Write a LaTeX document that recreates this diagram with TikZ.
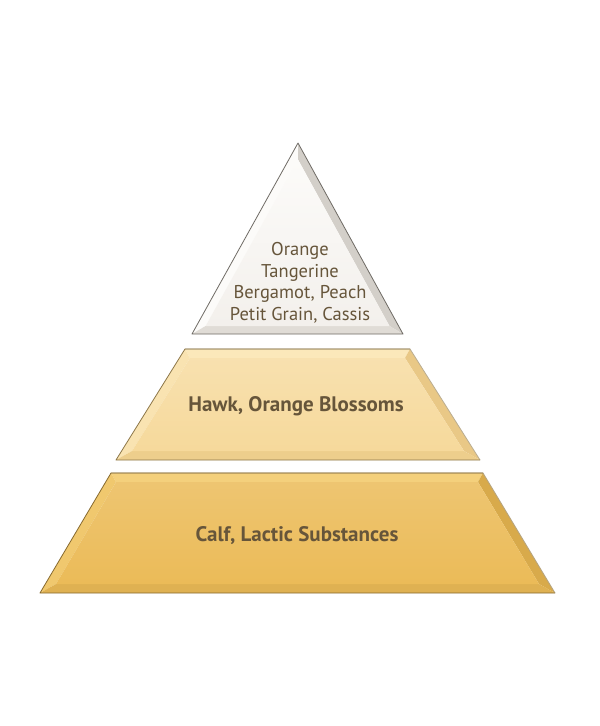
\documentclass[tikz,border=0pt]{standalone}
\usepackage{fontspec}
\setmainfont{PT Sans}
\usepackage{xcolor}
\definecolor{tipface}{HTML}{F3F0EC}
\definecolor{tiplite}{HTML}{FCFBF9}
\definecolor{tipdark}{HTML}{D3CFC9}
\definecolor{tiplow}{HTML}{E0DCD6}
\definecolor{tipedge}{HTML}{6F6B65}
\definecolor{midface}{HTML}{F6D99B}
\definecolor{midlite}{HTML}{FBE8BA}
\definecolor{middark}{HTML}{E9C886}
\definecolor{midlow}{HTML}{EDCE8C}
\definecolor{midedge}{HTML}{8C7648}
\definecolor{basface}{HTML}{EBBB58}
\definecolor{baslite}{HTML}{F4D07C}
\definecolor{basdark}{HTML}{D8AA4B}
\definecolor{baslow}{HTML}{DFB152}
\definecolor{basedge}{HTML}{86692F}
\definecolor{notetext}{HTML}{66553A}

\begin{document}
\begin{tikzpicture}[x=1pt, y=-1pt, line join=round]
  \tikzset{
    rim/.style={line width=0.8pt},
    notes/.style={text=notetext, align=center}
  }
  \useasboundingbox[fill=white] (0,0) rectangle (600,726);

  % top layer: a bevelled triangle (outer corners, then inset corners)
  \fill[tiplite] (298,143) -- (192,334) -- (205.6,326) -- (298,159.5) -- cycle;
  \fill[tipdark] (298,143) -- (403,334) -- (389.5,326) -- (298,159.5) -- cycle;
  \fill[tiplow] (192,334) -- (403,334) -- (389.5,326) -- (205.6,326) -- cycle;
  \shade[top color=tiplite, bottom color=tipface] (298,159.5) -- (389.5,326) -- (205.6,326) -- cycle;
  \draw[rim, tipedge] (298,143) -- (192,334) -- (403,334) -- cycle;

  % middle layer
  \fill[midlite] (185,349) -- (410,349) -- (405,358) -- (190,358) -- cycle;
  \fill[midlite!70!midface] (185,349) -- (190,358) -- (132,451) -- (116,460) -- cycle;
  \fill[middark] (410,349) -- (480,460) -- (464,451) -- (405,358) -- cycle;
  \fill[midlow] (116,460) -- (480,460) -- (464,451) -- (132,451) -- cycle;
  \shade[top color=midface!80!white, bottom color=midface] (190,358) -- (405,358) -- (464,451) -- (132,451) -- cycle;
  \draw[rim, midedge!60] (185,349) -- (410,349) -- (480,460);
  \draw[rim, midedge] (410,349) -- (185,349) -- (116,460) -- (480,460);

  % bottom layer
  \fill[baslite] (111,473) -- (483,473) -- (478,482) -- (116,482) -- cycle;
  \fill[baslite!60!basface] (111,473) -- (116,482) -- (56,584) -- (40,593) -- cycle;
  \fill[basdark] (483,473) -- (555,593) -- (539,584) -- (478,482) -- cycle;
  \fill[baslow] (40,593) -- (555,593) -- (539,584) -- (56,584) -- cycle;
  \shade[top color=basface!85!white, bottom color=basface] (116,482) -- (478,482) -- (539,584) -- (56,584) -- cycle;
  \draw[rim, basedge!60] (111,473) -- (483,473) -- (555,593);
  \draw[rim, basedge] (483,473) -- (111,473) -- (40,593) -- (555,593);

  % labels
  \node[notes, font=\fontsize{18.5}{21.5}\selectfont] (topnotes) at (300,283)
    {Orange\\Tangerine\\Bergamot, Peach\\Petit Grain, Cassis};
  \node[notes, font=\fontsize{21}{24}\selectfont\bfseries] (heartnotes) at (296,406)
    {Hawk, Orange Blossoms};
  \node[notes, font=\fontsize{21}{24}\selectfont\bfseries] (basenotes) at (297,536)
    {Calf, Lactic Substances};
\end{tikzpicture}
\end{document}
